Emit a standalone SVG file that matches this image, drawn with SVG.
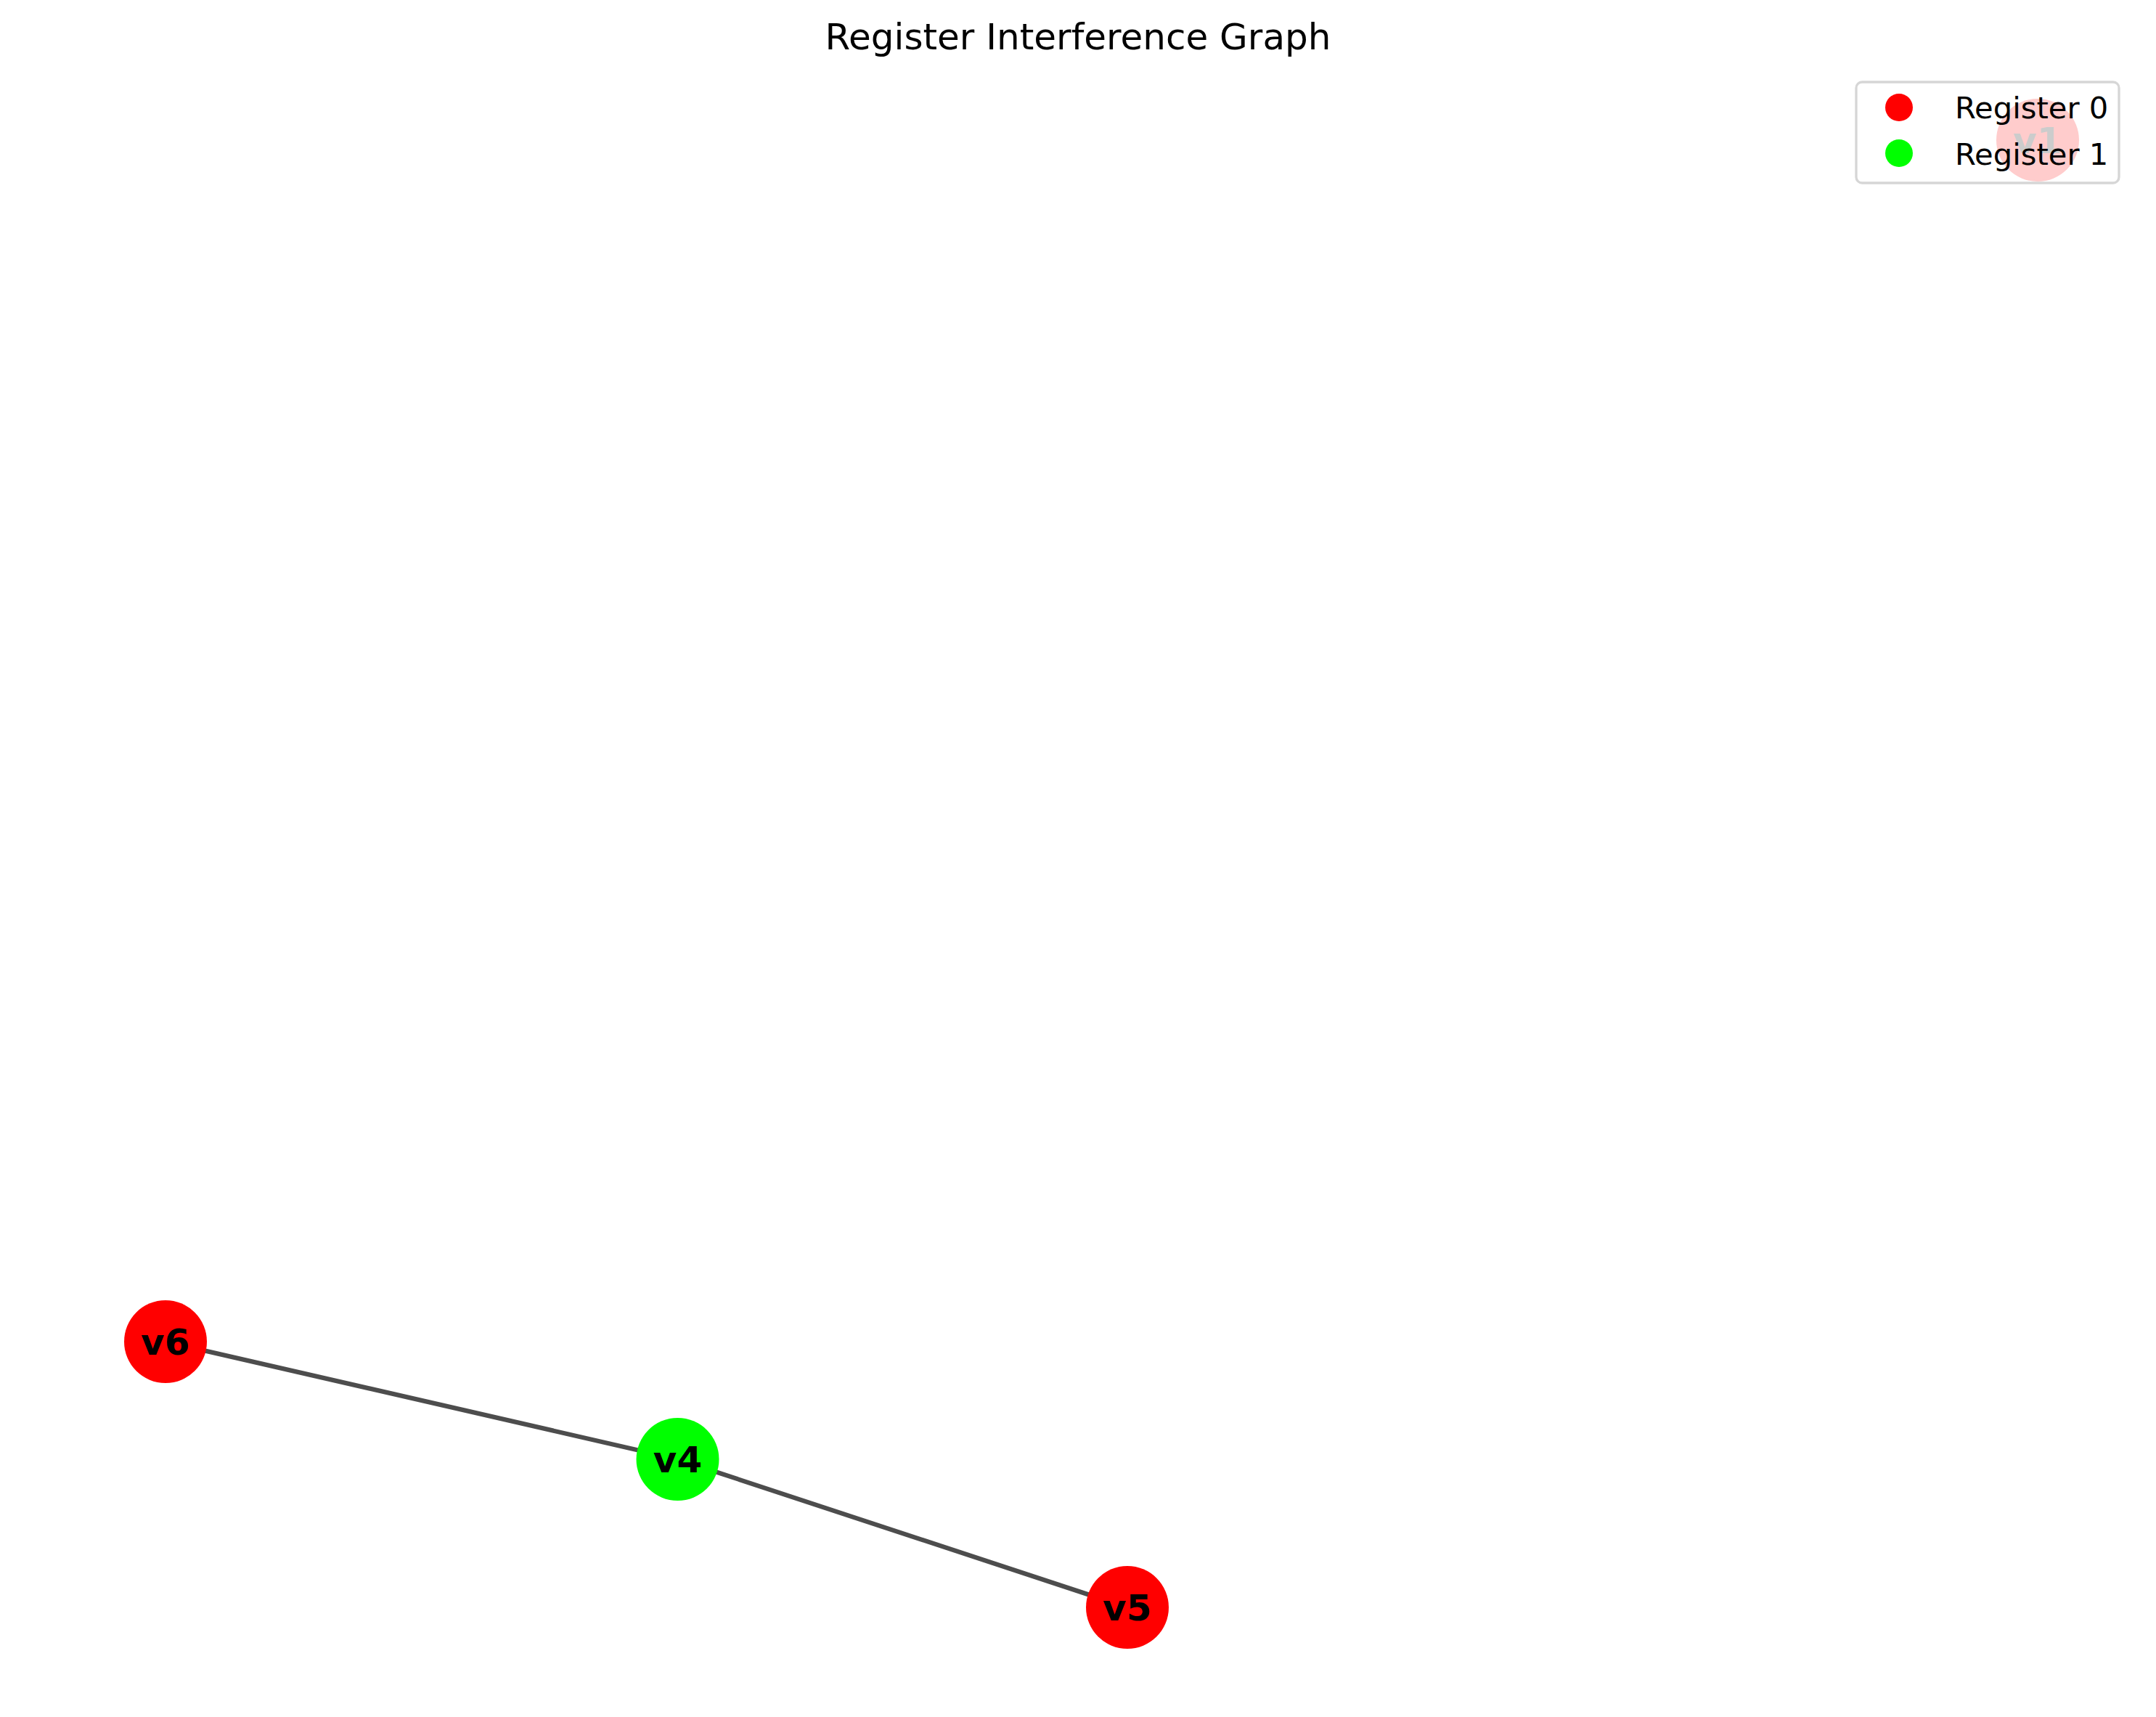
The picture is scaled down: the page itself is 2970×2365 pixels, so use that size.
<svg xmlns="http://www.w3.org/2000/svg" width="2970" height="2365" viewBox="0 0 2970 2365">
<style>
.bg{fill:#ffffff}
.edge{stroke:#4d4d4d;stroke-width:6.25;stroke-linecap:butt;fill:none}
.nlab{font-family:"DejaVu Sans",sans-serif;font-weight:bold;font-size:50px;text-anchor:middle}
.title{font-family:"DejaVu Sans",sans-serif;font-size:50px;text-anchor:middle;fill:#000}
.ltext{font-family:"DejaVu Sans",sans-serif;font-size:41.67px;fill:#000}
</style>
<rect class="bg" x="0" y="0" width="2970" height="2365"/>
<text class="title" x="1485" y="68">Register Interference Graph</text>
<g id="connectors">
<line class="edge" x1="228" y1="1848" x2="933.5" y2="2010"/>
<line class="edge" x1="933.5" y1="2010" x2="1553" y2="2214"/>
</g>
<g id="node-v6">
<circle cx="228" cy="1848" r="57" fill="#ff0000"/>
<text class="nlab" x="228" y="1866" fill="#000">v6</text>
</g>
<g id="node-v4">
<circle cx="933.5" cy="2010" r="57" fill="#00ff00"/>
<text class="nlab" x="933.5" y="2028" fill="#000">v4</text>
</g>
<g id="node-v5">
<circle cx="1553" cy="2214" r="57" fill="#ff0000"/>
<text class="nlab" x="1553" y="2232" fill="#000">v5</text>
</g>
<g id="legend-frame">
<rect x="2557" y="113" width="362" height="139" rx="8" ry="8" fill="#ffffff" stroke="#d6d6d6" stroke-width="3.3"/>
</g>
<g id="node-v1">
<circle cx="2807" cy="193" r="57" fill="#ffcccc"/>
<text class="nlab" x="2807" y="211" fill="#cccccc">v1</text>
</g>
<g id="legend">
<circle cx="2616" cy="148" r="19" fill="#ff0000"/>
<text class="ltext" x="2693" y="163">Register 0</text>
<circle cx="2616" cy="211" r="19" fill="#00ff00"/>
<text class="ltext" x="2693" y="227">Register 1</text>
</g>
</svg>
